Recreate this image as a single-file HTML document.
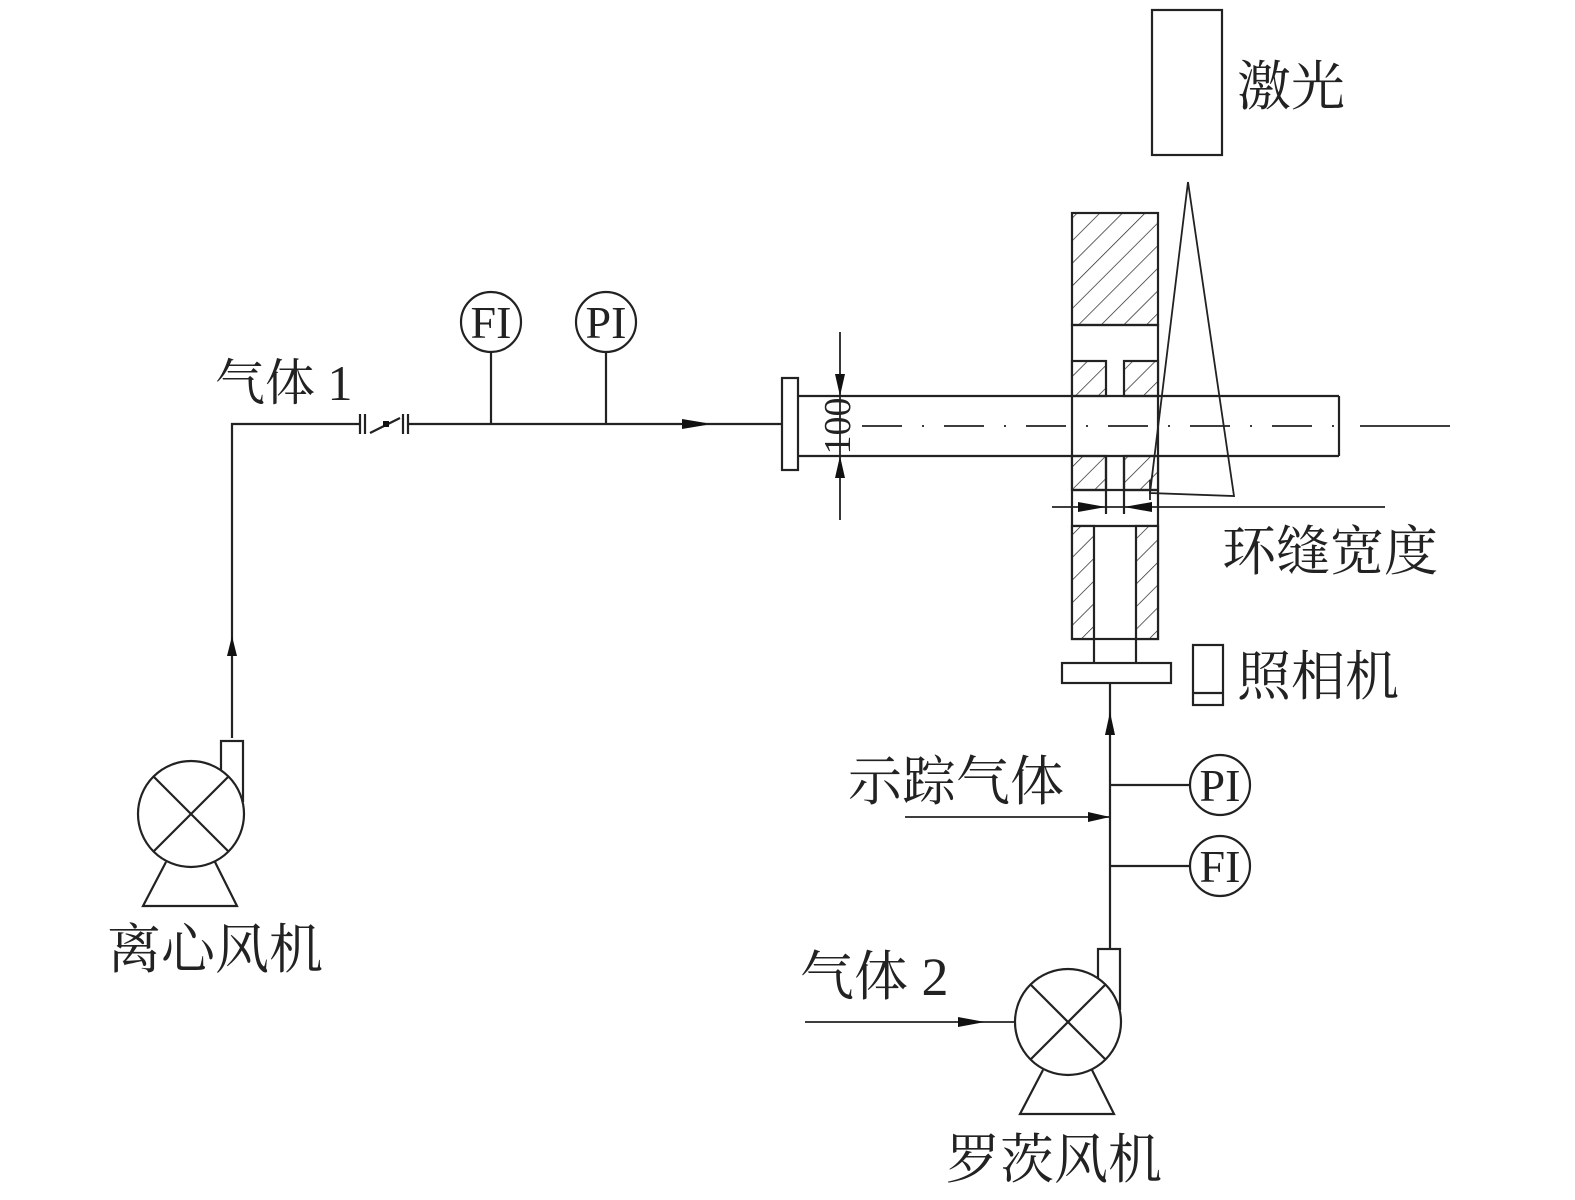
<!DOCTYPE html>
<html><head><meta charset="utf-8"><style>
html,body{margin:0;padding:0;background:#fff}
svg{display:block}
text{font-family:"Liberation Serif","Noto Serif CJK SC",serif;fill:#222}
</style></head><body>
<svg width="1575" height="1200" viewBox="0 0 1575 1200" xmlns="http://www.w3.org/2000/svg">
<defs>
<pattern id="h" patternUnits="userSpaceOnUse" width="16" height="16" patternTransform="rotate(45)">
<rect width="16" height="16" fill="#fff"/><line x1="0" y1="0" x2="0" y2="16" stroke="#222" stroke-width="1.4"/>
</pattern>
<g id="fan" stroke="#222" stroke-width="2.2" fill="none">
<rect x="221" y="741" width="22" height="60" fill="#fff"/>
<circle cx="191" cy="814" r="53" fill="#fff"/>
<line x1="153" y1="776" x2="229" y2="852"/><line x1="229" y1="776" x2="153" y2="852"/>
<polyline points="166,862 143,906 237,906 215,862"/>
</g>
</defs>
<g stroke="#222" stroke-width="2.2" fill="none">
<rect x="1152" y="10" width="70" height="145"/>
<rect x="1072" y="213" width="86" height="112" fill="url(#h)"/>
<rect x="1072" y="325" width="86" height="314"/>
<rect x="1072" y="361" width="34" height="35" fill="url(#h)"/>
<rect x="1124" y="361" width="34" height="35" fill="url(#h)"/>
<rect x="1072" y="456" width="34" height="34" fill="url(#h)"/>
<rect x="1124" y="456" width="34" height="34" fill="url(#h)"/>
<line x1="1072" y1="490" x2="1158" y2="490"/>
<line x1="1072" y1="526" x2="1158" y2="526"/>
<line x1="1106" y1="456" x2="1106" y2="514"/>
<line x1="1124" y1="456" x2="1124" y2="514"/>
<rect x="1072" y="526" width="22" height="113" fill="url(#h)"/>
<rect x="1136" y="526" width="22" height="113" fill="url(#h)"/>
<line x1="1094" y1="639" x2="1094" y2="663"/><line x1="1136" y1="639" x2="1136" y2="663"/>
<rect x="1062" y="663" width="109" height="20"/>
<rect x="782" y="378" width="16" height="92"/>
<line x1="798" y1="396" x2="1339" y2="396"/>
<line x1="798" y1="456" x2="1339" y2="456"/>
<line x1="1339" y1="396" x2="1339" y2="456"/>
<line x1="862" y1="426" x2="1340" y2="426" stroke-dasharray="40,20,2,20" stroke-width="1.8"/>
<line x1="1360" y1="426" x2="1450" y2="426" stroke-width="1.8"/>
<polyline points="1188,182 1150,493 1234,496 1188,182" stroke-width="1.8"/>
<line x1="1150" y1="480" x2="1150" y2="500" stroke-width="1.8"/>
<line x1="1052" y1="507" x2="1385" y2="507" stroke-width="1.8"/>
<line x1="840" y1="332" x2="840" y2="520" stroke-width="1.8"/>
<polyline points="232,738 232,424 360,424"/>
<line x1="408" y1="424" x2="782" y2="424"/>
<line x1="360" y1="414" x2="360" y2="434"/><line x1="365" y1="414" x2="365" y2="434"/>
<line x1="403" y1="414" x2="403" y2="434"/><line x1="408" y1="414" x2="408" y2="434"/>
<line x1="370" y1="433" x2="400" y2="418"/>
<line x1="491" y1="352" x2="491" y2="424"/><line x1="606" y1="352" x2="606" y2="424"/>
<circle cx="491" cy="322" r="30"/><circle cx="606" cy="322" r="30"/>
<line x1="1110" y1="683" x2="1110" y2="952"/>
<line x1="1110" y1="785" x2="1190" y2="785"/><line x1="1110" y1="866" x2="1190" y2="866"/>
<circle cx="1220" cy="785" r="30"/><circle cx="1220" cy="866" r="30"/>
<line x1="905" y1="817" x2="1110" y2="817" stroke-width="1.8"/>
<line x1="805" y1="1022" x2="1015" y2="1022" stroke-width="1.8"/>
<rect x="1193" y="645" width="30" height="60"/><line x1="1193" y1="693" x2="1223" y2="693"/>
</g>
<use href="#fan"/>
<use href="#fan" transform="translate(877,208)"/>
<g fill="#111">
<rect x="383" y="421" width="6" height="6"/>
<polygon points="682,419 706,423 706,425 682,429"/>
<polygon points="227,656 232,636 237,656"/>
<polygon points="1105,735 1110,712 1115,735"/>
<polygon points="1088,812 1110,817 1088,822"/>
<polygon points="958,1017 985,1022 958,1027"/>
<polygon points="835,374 840,396 845,374"/>
<polygon points="835,478 840,456 845,478"/>
<polygon points="1078,502 1106,507 1078,512"/>
<polygon points="1152,502 1124,507 1152,512"/>
</g>
<text x="215" y="400" font-size="50">气体 1</text>
<text x="491" y="338" font-size="46" text-anchor="middle">FI</text>
<text x="606" y="338" font-size="46" text-anchor="middle">PI</text>
<text x="1220" y="801" font-size="46" text-anchor="middle">PI</text>
<text x="1220" y="882" font-size="46" text-anchor="middle">FI</text>
<text x="1237" y="105" font-size="54">激光</text>
<text x="1222" y="570" font-size="54">环缝宽度</text>
<text x="1237" y="695" font-size="54">照相机</text>
<text x="848" y="800" font-size="54">示踪气体</text>
<text x="800" y="995" font-size="54">气体 2</text>
<text x="107" y="968" font-size="54">离心风机</text>
<text x="946" y="1178" font-size="54">罗茨风机</text>
<text transform="translate(850,426) rotate(-90)" font-size="38" text-anchor="middle">100</text>
</svg>
</body></html>
